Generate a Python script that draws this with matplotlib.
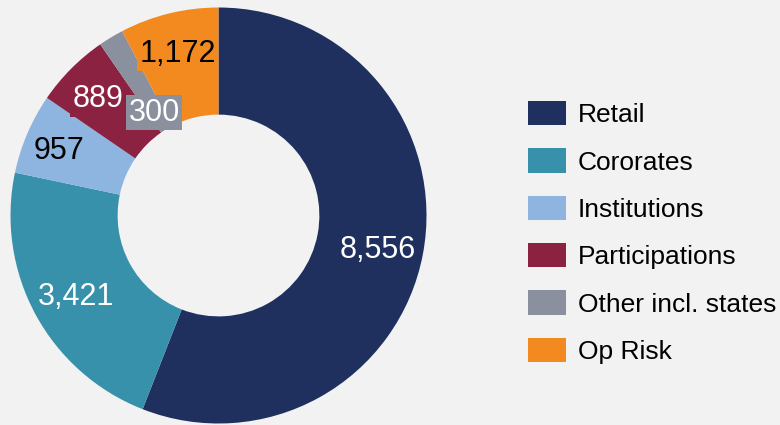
import numpy as np
import matplotlib
matplotlib.use("Agg")
import matplotlib.pyplot as plt

categories = ["Retail", "Cororates", "Institutions", "Participations",
              "Other incl. states", "Op Risk"]
values = [8556, 3421, 957, 889, 300, 1172]
colors = ["#1f305e", "#3891aa", "#8db5df", "#8b2242", "#8a909d", "#f38a20"]
label_colors = ["white", "white", "black", "white", "white", "black"]
label_radius = [0.78, 0.78, 0.835, 0.82, 0.60, 0.82]

plt.rcParams['font.family'] = ['Liberation Sans', 'DejaVu Sans']
bg = "#f2f2f2"

fig = plt.figure(figsize=(7.8, 4.25), dpi=100, facecolor=bg)
# pie centre ~ (218.5, 215.5) px, radius ~208 px
cx, cy, r_px = 218.5, 215.5, 208
ax = fig.add_axes([(cx - r_px) / 780, (425 - cy - r_px) / 425,
                   2 * r_px / 780, 2 * r_px / 425])
ax.set_facecolor(bg)

wedges, _ = ax.pie(values, colors=colors, startangle=90, counterclock=False,
                   radius=1.0, wedgeprops=dict(width=0.515, edgecolor="none"))
ax.set_xlim(-1, 1)
ax.set_ylim(-1, 1)
ax.set_aspect("equal")
ax.axis("off")

for w, v, c, tc, lr in zip(wedges, values, colors, label_colors, label_radius):
    ang = np.deg2rad((w.theta1 + w.theta2) / 2)
    x, y = lr * np.cos(ang), lr * np.sin(ang)
    ax.annotate(f"{v:,}", (x, y), xytext=(0, -4), textcoords="offset pixels",
                ha="center", va="center", fontsize=22, color=tc,
                bbox=dict(boxstyle="square,pad=0.08", fc=c, ec="none"))

leg = fig.legend(wedges, categories, loc="upper left",
                 bbox_to_anchor=(520 / 780, 1 - 93 / 425),
                 frameon=False, fontsize=19, handlelength=1.45,
                 handleheight=1.05, handletextpad=0.45, labelspacing=0.8,
                 borderaxespad=0, borderpad=0.3)

fig.savefig("out.png", dpi=100, facecolor=bg)
